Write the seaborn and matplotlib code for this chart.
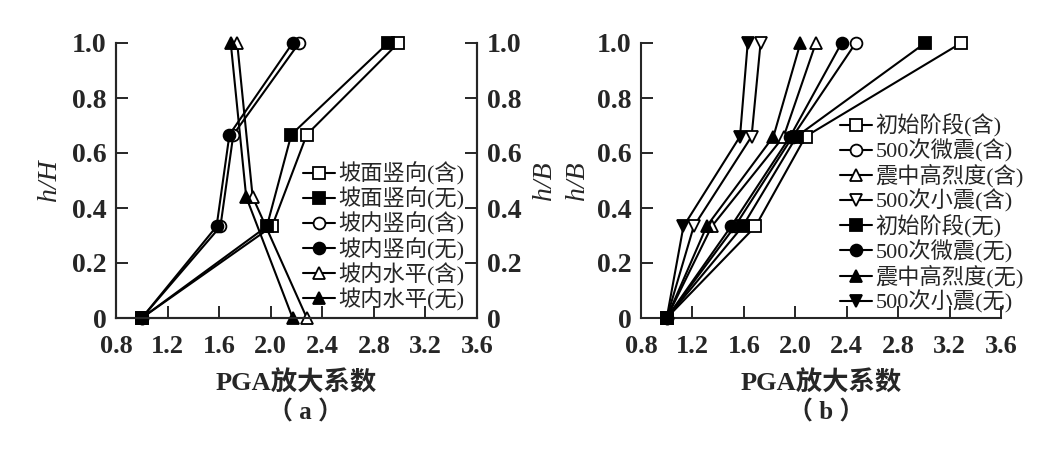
import numpy as np
import pandas as pd
import matplotlib
matplotlib.use("Agg")
import matplotlib.pyplot as plt
import seaborn as sns

# ---------------- data ----------------
h_a = [0, 0.333, 0.667, 1.0]        # h/H, 坡面/坡内竖向
h_a_tri = [0, 0.44, 1.0]            # h/H, 坡内水平
h_b = [0, 0.333, 0.66, 1.0]         # h/B

names_a = ["坡面竖向(含)", "坡面竖向(无)", "坡内竖向(含)",
           "坡内竖向(无)", "坡内水平(含)", "坡内水平(无)"]
pga_a = [
    [1.0, 2.01, 2.28, 2.99],
    [1.0, 1.97, 2.16, 2.91],
    [1.0, 1.61, 1.71, 2.22],
    [1.0, 1.58, 1.68, 2.17],
    [2.28, 1.86, 1.74],
    [2.17, 1.81, 1.69],
]
heights_a = [h_a, h_a, h_a, h_a, h_a_tri, h_a_tri]
markers_a = ["s", "s", "o", "o", "^", "^"]
open_a = [True, False, True, False, True, False]

names_b = ["初始阶段(含)", "500次微震(含)", "震中高烈度(含)", "500次小震(含)",
           "初始阶段(无)", "500次微震(无)", "震中高烈度(无)", "500次小震(无)"]
pga_b = [
    [1.0, 1.69, 2.08, 3.29],
    [1.0, 1.53, 1.98, 2.47],
    [1.0, 1.35, 1.91, 2.16],
    [1.0, 1.21, 1.66, 1.73],
    [1.0, 1.59, 2.01, 3.01],
    [1.0, 1.50, 1.96, 2.36],
    [1.0, 1.31, 1.83, 2.04],
    [1.0, 1.13, 1.57, 1.63],
]
markers_b = ["s", "o", "^", "v", "s", "o", "^", "v"]
open_b = [True, True, True, True, False, False, False, False]

x_ticks = [0.8, 1.2, 1.6, 2.0, 2.4, 2.8, 3.2, 3.6]
y_ticks = [0, 0.2, 0.4, 0.6, 0.8, 1.0]
y_ticklabels = ["0", "0.2", "0.4", "0.6", "0.8", "1.0"]

# ---------------- style ----------------
sns.set_style("ticks")
serif_cjk = ["Liberation Serif", "Noto Sans CJK SC"]
plt.rcParams["font.family"] = serif_cjk
plt.rcParams["axes.linewidth"] = 1.5

fig = plt.figure(figsize=(10.54, 4.58), dpi=100)
ax_a = fig.add_axes([116 / 1054, 140 / 458, 361 / 1054, 275 / 458])
ax_b = fig.add_axes([641 / 1054, 140 / 458, 360 / 1054, 275 / 458])


def draw(ax, xs_list, ys_list, names, markers, opens):
    for xs, ys, nm, mk, op in zip(xs_list, ys_list, names, markers, opens):
        df = pd.DataFrame({"pga": xs, "h": ys})
        sns.lineplot(data=df, x="pga", y="h", ax=ax, sort=False, estimator=None,
                     color="black", lw=1.5, marker=mk, markersize=8.5,
                     markeredgewidth=1.3, markeredgecolor="black",
                     markerfacecolor="white" if op else "black",
                     label=nm, clip_on=False, zorder=3)


def style_axis(ax, right_spine):
    ax.set_xlim(0.8, 3.6)
    ax.set_ylim(0, 1.0)
    ax.set_xticks(x_ticks)
    ax.set_xticklabels([f"{v:.1f}" for v in x_ticks], fontsize=19, fontweight="bold")
    ax.set_yticks(y_ticks)
    ax.set_yticklabels(y_ticklabels, fontsize=20, fontweight="bold")
    ax.tick_params(axis="x", direction="in", length=8.5, width=1.4, pad=12)
    ax.tick_params(axis="y", direction="in", length=8.5, width=1.4, pad=7)
    ax.spines["top"].set_visible(False)
    ax.spines["right"].set_visible(right_spine)
    ax.set_xlabel("PGA放大系数", fontsize=19, fontweight="bold", labelpad=9)


# (a)
draw(ax_a, pga_a, heights_a, names_a, markers_a, open_a)
style_axis(ax_a, True)
ax_a.set_ylabel("h/H", fontsize=20, fontstyle="italic", family="Liberation Serif")
ax_a.yaxis.set_label_coords(-0.15, 0.5)
ax_a2 = ax_a.twinx()
ax_a2.set_ylim(0, 1.0)
ax_a2.set_yticks(y_ticks)
ax_a2.set_yticklabels(y_ticklabels, fontsize=20, fontweight="bold")
ax_a2.tick_params(axis="y", direction="in", length=8.5, width=1.4, pad=7)
ax_a2.spines["top"].set_visible(False)
ax_a2.set_ylabel("h/B", fontsize=20, fontstyle="italic", family="Liberation Serif")
ax_a2.yaxis.set_label_coords(1.152, 0.5)
ax_a.legend(loc="upper left", bbox_to_anchor=(0.518, 0.567), frameon=False,
            prop={"family": serif_cjk, "size": 16}, labelspacing=0.08,
            handlelength=1.45, handletextpad=0.15, borderpad=0, borderaxespad=0)

# (b)
draw(ax_b, pga_b, [h_b] * 8, names_b, markers_b, open_b)
style_axis(ax_b, False)
ax_b.set_ylabel("h/B", fontsize=20, fontstyle="italic", family="Liberation Serif")
ax_b.yaxis.set_label_coords(-0.142, 0.5)
ax_b.legend(loc="upper left", bbox_to_anchor=(0.553, 0.742), frameon=False,
            prop={"family": serif_cjk, "size": 16}, labelspacing=0.08,
            handlelength=1.45, handletextpad=0.15, borderpad=0, borderaxespad=0)

fig.text(306 / 1054, 1 - 413 / 458, "（ a ）", fontsize=18, fontweight="bold",
         ha="center", va="center")
fig.text(826 / 1054, 1 - 413 / 458, "（ b ）", fontsize=18, fontweight="bold",
         ha="center", va="center")

fig.savefig("out.png", dpi=100)
